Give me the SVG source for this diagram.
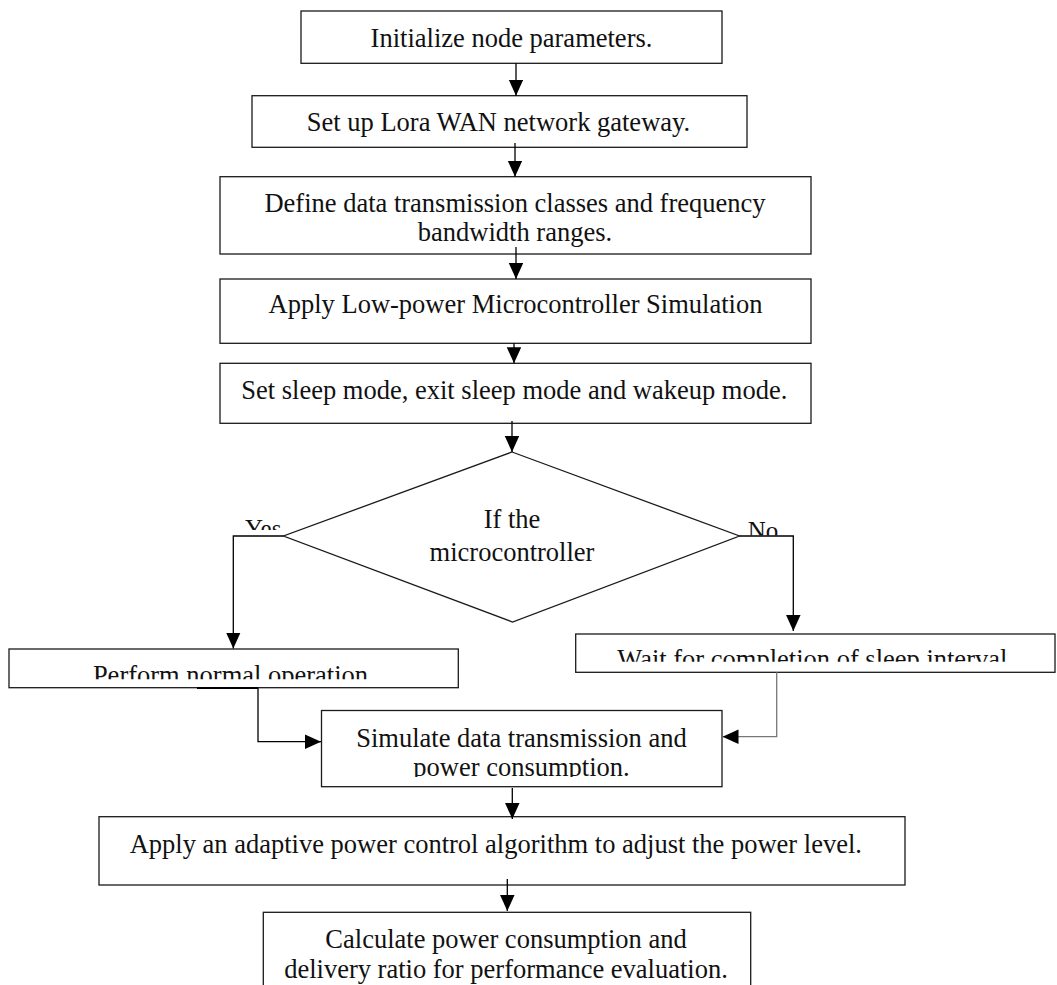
<svg xmlns="http://www.w3.org/2000/svg" width="1057" height="985" viewBox="0 0 1057 985">
<style>
.box{fill:#fff;stroke:#1a1a1a;stroke-width:1.3}
.t{font-family:"Liberation Serif","Times New Roman",serif;font-size:26.5px;fill:#111;text-anchor:middle}
.lbl{font-family:"Liberation Serif","Times New Roman",serif;font-size:25px;fill:#111}
.c{fill:none;stroke:#000;stroke-width:1.3}
.cg{fill:none;stroke:#777;stroke-width:1.3}
</style>
<defs>
<marker id="ah" markerUnits="userSpaceOnUse" markerWidth="17" markerHeight="15" refX="16" refY="7.25" orient="auto">
<path d="M0,0 L16,7.25 L0,14.5 z" fill="#000"/>
</marker>
<clipPath id="clipYes"><rect x="230" y="500" width="60" height="30"/></clipPath>
<clipPath id="clipNo"><rect x="740" y="500" width="60" height="35.5"/></clipPath>
<clipPath id="clipPerf"><rect x="10" y="650" width="447" height="29.3"/></clipPath>
<clipPath id="clipWait"><rect x="577" y="635" width="477" height="26.7"/></clipPath>
<clipPath id="clipSim"><rect x="322" y="711" width="399" height="66"/></clipPath>
</defs>
<rect width="1057" height="985" fill="#fff"/>

<g id="n1"><rect class="box" x="301" y="11" width="421" height="52.3"/>
<text class="t" x="511.5" y="46.7">Initialize node parameters.</text></g>

<g id="n2"><rect class="box" x="252" y="95.7" width="495" height="51.6"/>
<text class="t" x="498.5" y="130.7">Set up Lora WAN network gateway.</text></g>

<g id="n3"><rect class="box" x="220" y="176.7" width="591" height="77.3"/>
<text class="t" x="515" y="211.7">Define data transmission classes and frequency</text>
<text class="t" x="515" y="240.7">bandwidth ranges.</text></g>

<g id="n4"><rect class="box" x="220" y="279" width="591" height="64.3"/>
<text class="t" x="515.5" y="313.3">Apply Low-power Microcontroller Simulation</text></g>

<g id="n5"><rect class="box" x="220" y="363.3" width="591" height="60"/>
<text class="t" x="514.3" y="399">Set sleep mode, exit sleep mode and wakeup mode.</text></g>

<g id="n6"><polygon class="box" points="512,452 739.5,536 512.5,622 283.5,536"/>
<text class="t" x="512" y="528.3">If the</text>
<text class="t" x="512" y="560.7">microcontroller</text></g>

<g id="n7"><rect class="box" x="9" y="649" width="449.3" height="38.7"/>
<text class="t" x="230.5" y="684.2" clip-path="url(#clipPerf)">Perform normal operation</text></g>

<g id="n8"><rect class="box" x="575.7" y="634" width="479.3" height="38.3"/>
<text class="t" x="812.3" y="667.5" clip-path="url(#clipWait)">Wait for completion of sleep interval</text></g>

<g id="n9"><rect class="box" x="321.5" y="710.5" width="400.5" height="76.2"/>
<text class="t" x="521.5" y="746.7">Simulate data transmission and</text>
<text class="t" x="521.5" y="775.7" clip-path="url(#clipSim)">power consumption.</text></g>

<g id="n10"><rect class="box" x="99" y="816.7" width="806" height="68.3"/>
<text class="t" x="495.8" y="852.7">Apply an adaptive power control algorithm to adjust the power level.</text></g>

<g id="n11"><rect class="box" x="263.3" y="912.3" width="487.4" height="80"/>
<text class="t" x="506" y="947.7">Calculate power consumption and</text>
<text class="t" x="506" y="977.7">delivery ratio for performance evaluation.</text></g>

<g id="connectors">
<line class="c" x1="516" y1="63.3" x2="516" y2="95.7" marker-end="url(#ah)"/>
<line class="c" x1="515" y1="143" x2="515" y2="176.7" marker-end="url(#ah)"/>
<line class="c" x1="516" y1="247" x2="516" y2="279" marker-end="url(#ah)"/>
<line class="c" x1="514" y1="343.3" x2="514" y2="363.3" marker-end="url(#ah)"/>
<line class="c" x1="512" y1="421" x2="512" y2="452" marker-end="url(#ah)"/>
<path class="c" d="M283.5,536 H233.3 V648.5" marker-end="url(#ah)"/>
<path class="c" d="M739.5,536 H793.3 V631" marker-end="url(#ah)"/>
<line x1="197" y1="688" x2="258" y2="688" stroke="#000" stroke-width="2"/>
<path class="c" d="M258,688 V741.7 H321" marker-end="url(#ah)"/>
<path class="cg" d="M776.7,672.3 V736.7 H722.5" marker-end="url(#ah)"/>
<line class="c" x1="512.3" y1="788" x2="512.3" y2="819" marker-end="url(#ah)"/>
<line class="c" x1="507.3" y1="879" x2="507.3" y2="911" marker-end="url(#ah)"/>
</g>

<g id="labels">
<text class="lbl" x="245" y="537" clip-path="url(#clipYes)">Yes</text>
<text class="lbl" x="747.7" y="539" clip-path="url(#clipNo)">No</text>
</g>
</svg>
